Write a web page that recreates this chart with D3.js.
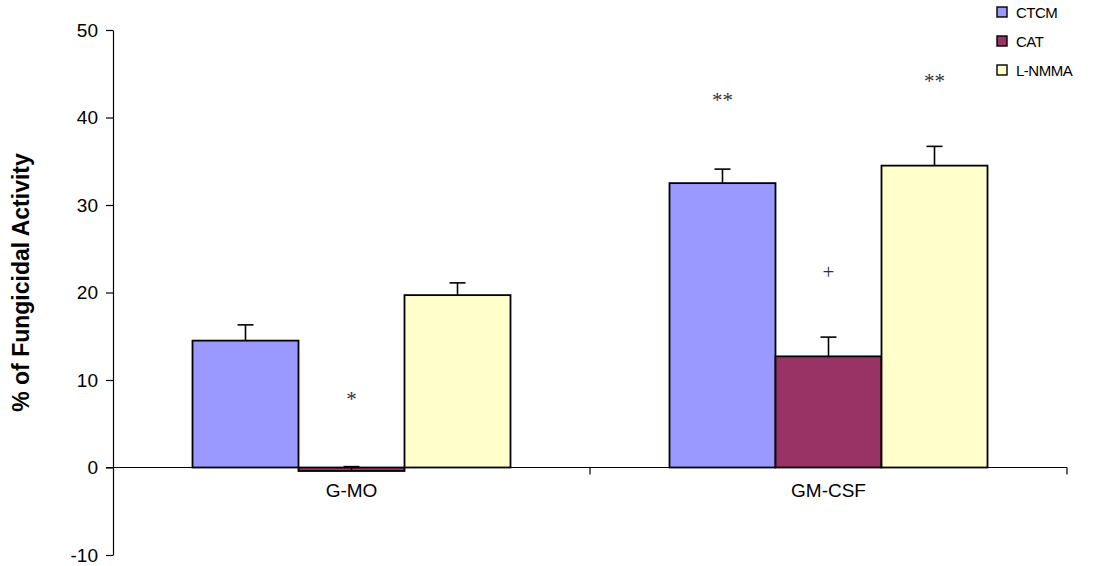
<!DOCTYPE html>
<html>
<head>
<meta charset="utf-8">
<script src="https://cdn.jsdelivr.net/npm/d3@7"></script>
<style>
  html, body { margin: 0; padding: 0; background: #fff; }
  svg { display: block; }
</style>
</head>
<body>
<svg id="chart" width="1103" height="566"></svg>
<script>
// Groups on the x axis and the three treatments within each group
const categories = ["G-MO", "GM-CSF"];
const seriesNames = ["CTCM", "CAT", "L-NMMA"];
const seriesColors = ["#9999FF", "#993366", "#FFFFCC"];

// Mean fungicidal activity (%) per treatment, in category order
const ctcmValues = [14.5, 32.5];
const catValues = [-0.4, 12.7];
const lnmmaValues = [19.7, 34.5];

// Upper error (SEM) per treatment
const ctcmErrors = [1.8, 1.6];
const catErrors = [0.5, 2.2];
const lnmmaErrors = [1.4, 2.2];

// Significance marks: category, treatment, symbol, height in % units
const marks = [
  { category: "G-MO", series: "CAT", symbol: "*", y: 7.8 },
  { category: "GM-CSF", series: "CTCM", symbol: "**", y: 42.0 },
  { category: "GM-CSF", series: "CAT", symbol: "+", y: 22.3 },
  { category: "GM-CSF", series: "L-NMMA", symbol: "**", y: 44.2 }
];

const yTicks = [-10, 0, 10, 20, 30, 40, 50];
const yTitle = "% of Fungicidal Activity";

const valuesBySeries = [ctcmValues, catValues, lnmmaValues];
const errorsBySeries = [ctcmErrors, catErrors, lnmmaErrors];
const rows = [];
categories.forEach((c, ci) => {
  seriesNames.forEach((s, si) => {
    rows.push({ category: c, series: s, value: valuesBySeries[si][ci], err: errorsBySeries[si][ci] });
  });
});

const svg = d3.select("#chart");
const plot = { left: 113, right: 1067, top: 30, bottom: 555 };

const y = d3.scaleLinear().domain([-10, 50]).range([plot.bottom, plot.top]);
const x0 = d3.scaleBand().domain(categories).range([plot.left, plot.right]).paddingInner(0).paddingOuter(0);
const x1 = d3.scaleBand().domain(seriesNames).range([0, x0.bandwidth()]).paddingOuter(0.75).paddingInner(0);
const color = d3.scaleOrdinal().domain(seriesNames).range(seriesColors);

const fontSans = "'Liberation Sans', Arial, sans-serif";

// Bars
const bars = svg.append("g");
bars.selectAll("rect")
  .data(rows)
  .join("rect")
  .attr("x", d => x0(d.category) + x1(d.series))
  .attr("width", x1.bandwidth())
  .attr("y", d => y(Math.max(0, d.value)))
  .attr("height", d => Math.abs(y(d.value) - y(0)))
  .attr("fill", d => color(d.series))
  .attr("stroke", "#000")
  .attr("stroke-width", 1.8);

// Error bars (upper direction only)
const errG = svg.append("g").attr("stroke", "#000").attr("stroke-width", 1.6);
rows.forEach(d => {
  const cx = x0(d.category) + x1(d.series) + x1.bandwidth() / 2;
  const top = y(d.value + d.err);
  errG.append("line").attr("x1", cx).attr("x2", cx).attr("y1", y(d.value)).attr("y2", top);
  errG.append("line").attr("x1", cx - 8).attr("x2", cx + 8).attr("y1", top).attr("y2", top);
});

// Y axis (plain hyphen for negatives)
const yAxis = d3.axisLeft(y).tickValues(yTicks).tickFormat(d => String(d))
  .tickSize(7).tickPadding(8).tickSizeOuter(0);
const yg = svg.append("g").attr("transform", `translate(${plot.left},0)`).call(yAxis);
yg.select(".domain").attr("stroke", "#000").attr("stroke-width", 1.2);
yg.selectAll(".tick line").attr("stroke", "#000").attr("stroke-width", 1.2);
yg.selectAll(".tick text").attr("font-family", fontSans).attr("font-size", 19).attr("fill", "#000");

// X axis at zero
const xg = svg.append("g").attr("transform", `translate(0,${y(0)})`);
xg.append("line").attr("x1", plot.left - 7).attr("x2", plot.right).attr("y1", 0).attr("y2", 0)
  .attr("stroke", "#000").attr("stroke-width", 1.2);
const bounds = categories.map(c => x0(c) + x0.bandwidth());
xg.selectAll("line.tick").data(bounds).join("line").attr("class", "tick")
  .attr("x1", d => d).attr("x2", d => d).attr("y1", 0).attr("y2", 7)
  .attr("stroke", "#000").attr("stroke-width", 1.2);
xg.selectAll("text").data(categories).join("text")
  .attr("x", d => x0(d) + x0.bandwidth() / 2)
  .attr("y", 29)
  .attr("text-anchor", "middle")
  .attr("font-family", fontSans).attr("font-size", 19)
  .text(d => d);

// Y axis title
svg.append("text")
  .attr("transform", `translate(29,${(plot.top + plot.bottom) / 2 - 10}) rotate(-90)`)
  .attr("text-anchor", "middle")
  .attr("font-family", fontSans).attr("font-size", 23).attr("font-weight", "bold")
  .text(yTitle);

// Significance marks
svg.append("g").selectAll("text").data(marks).join("text")
  .attr("x", d => x0(d.category) + x1(d.series) + x1.bandwidth() / 2)
  .attr("y", d => y(d.y))
  .attr("text-anchor", "middle")
  .attr("dominant-baseline", "central")
  .attr("font-family", "'Liberation Serif', 'Times New Roman', serif")
  .attr("font-size", 21).attr("fill", "#333")
  .text(d => d.symbol);

// Legend
const legend = svg.append("g").attr("transform", "translate(997,0)");
const lg = legend.selectAll("g").data(seriesNames).join("g")
  .attr("transform", (d, i) => `translate(0,${12 + i * 29})`);
lg.append("rect").attr("x", 0).attr("y", -5).attr("width", 10).attr("height", 10)
  .attr("fill", d => color(d)).attr("stroke", "#000").attr("stroke-width", 1.4);
lg.append("text").attr("x", 19).attr("y", 0).attr("dominant-baseline", "central")
  .attr("font-family", fontSans).attr("font-size", 15).attr("letter-spacing", -0.5)
  .text(d => d);
</script>
</body>
</html>
